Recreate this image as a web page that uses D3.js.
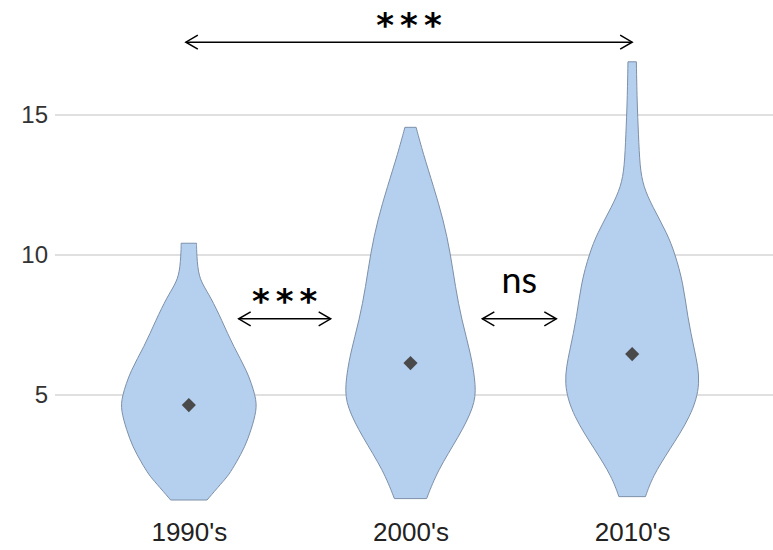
<!DOCTYPE html>
<html>
<head>
<meta charset="utf-8">
<script src="https://cdn.jsdelivr.net/npm/d3@7"></script>
<style>
  body { margin: 0; background: #fff; }
  svg { display: block; }
</style>
</head>
<body>
<div id="chart"></div>
<script>
// data
const decades = ["1990's", "2000's", "2010's"];
const means = [4.64, 6.14, 6.46];
const yTicks = [5, 10, 15];

// violin outlines: value along y, relative density (half width)
const values90 = [1.25, 1.86, 2.14, 2.6, 3.14, 3.75, 4.46, 4.93, 5.89, 6.71, 7.68, 8.5, 8.93, 9.36, 10.18, 10.42];
const density90 = [0.26, 0.47, 0.57, 0.68, 0.8, 0.89, 0.97, 0.96, 0.83, 0.64, 0.47, 0.31, 0.2, 0.13, 0.11, 0.11];
const values00 = [1.3, 2.32, 3.51, 4.58, 5.3, 6.5, 7.68, 8.87, 10.07, 11.25, 12.44, 13.63, 14.56];
const density00 = [0.23, 0.39, 0.69, 0.91, 0.94, 0.86, 0.73, 0.64, 0.57, 0.47, 0.33, 0.18, 0.08];
const values10 = [1.37, 2.08, 3.04, 4.23, 5.42, 6.6, 7.8, 8.99, 10.06, 10.77, 11.73, 12.44, 13.15, 14.3, 15.5, 16.9];
const density10 = [0.19, 0.29, 0.53, 0.84, 0.99, 0.89, 0.79, 0.73, 0.61, 0.5, 0.29, 0.16, 0.11, 0.09, 0.07, 0.06];

// pairwise comparisons
const compFrom = [0, 1, 0];
const compTo = [1, 2, 2];
const compLabels = ["***", "ns", "***"];

const width = 773, height = 550;

const svg = d3.select('#chart').append('svg')
    .attr('width', width)
    .attr('height', height);

const x = d3.scalePoint().domain(decades).range([78, 743]).padding(0.5);
const y = d3.scaleLinear().domain([0, 18]).range([535, 31]);
const w = d3.scaleLinear().domain([0, 1]).range([0, 70]);

// gridlines
svg.append('g').selectAll('line')
    .data(yTicks)
    .join('line')
    .attr('x1', 55).attr('x2', width)
    .attr('y1', d => y(d)).attr('y2', d => y(d))
    .attr('stroke', '#d6d6d6')
    .attr('stroke-width', 1.5);

// y axis labels
const yAxis = d3.axisLeft(y).tickValues(yTicks).tickSize(0).tickPadding(0);
svg.append('g')
    .attr('transform', 'translate(48,0)')
    .call(yAxis)
    .call(g => g.select('.domain').remove())
    .selectAll('text')
    .attr('font-family', 'Liberation Sans, Arial, sans-serif')
    .attr('font-size', 24)
    .attr('fill', '#333');

// x axis labels
const xAxis = d3.axisBottom(x).tickSize(0).tickPadding(0);
svg.append('g')
    .attr('transform', 'translate(0,523)')
    .call(xAxis)
    .call(g => g.select('.domain').remove())
    .selectAll('text')
    .attr('font-family', 'Liberation Sans, Arial, sans-serif')
    .attr('font-size', 26)
    .attr('fill', '#222');

// violins
const violins = [
    { name: decades[0], values: values90, density: density90 },
    { name: decades[1], values: values00, density: density00 },
    { name: decades[2], values: values10, density: density10 }
];

violins.forEach(v => {
    const pts = v.values.map((val, i) => ({ value: val, dens: v.density[i] }));
    const cx = x(v.name);
    const area = d3.area()
        .y(d => y(d.value))
        .x0(d => cx - w(d.dens))
        .x1(d => cx + w(d.dens))
        .curve(d3.curveBasis);
    svg.append('path')
        .datum(pts)
        .attr('d', area)
        .attr('fill', '#b5cfee')
        .attr('stroke', '#7d90a8')
        .attr('stroke-width', 1);
});

// mean markers
svg.append('g').selectAll('path')
    .data(means)
    .join('path')
    .attr('transform', (d, i) => `translate(${x(decades[i])},${y(d)}) rotate(45)`)
    .attr('d', d3.symbol(d3.symbolSquare, 100))
    .attr('fill', '#4a4a4a');

// comparison arrows
function arrow(x1, x2, yy) {
    const g = svg.append('g')
        .attr('stroke', '#000')
        .attr('stroke-width', 1.5)
        .attr('fill', 'none');
    g.append('line').attr('x1', x1).attr('x2', x2).attr('y1', yy).attr('y2', yy);
    g.append('path').attr('d', `M${x1 + 12},${yy - 7}L${x1},${yy}L${x1 + 12},${yy + 7}`);
    g.append('path').attr('d', `M${x2 - 12},${yy - 7}L${x2},${yy}L${x2 - 12},${yy + 7}`);
}

compLabels.forEach((lab, i) => {
    const a = x(decades[compFrom[i]]), b = x(decades[compTo[i]]);
    const wide = compTo[i] - compFrom[i] > 1;
    let x1, x2, yy;
    if (wide) {
        x1 = a - 3; x2 = b; yy = y(17.6);
    } else {
        const mid = (a + b) / 2 + (i === 0 ? -15 : -2);
        const half = i === 0 ? 46 : 37;
        x1 = mid - half; x2 = mid + half; yy = y(7.72);
    }
    arrow(x1, x2, yy);
    const isNs = lab === 'ns';
    svg.append('text')
        .attr('x', (x1 + x2) / 2 + (isNs ? 0 : 3))
        .attr('y', isNs ? yy - 26 : yy - (wide ? 5 : 6))
        .attr('text-anchor', 'middle')
        .attr('font-family', isNs ? 'Lato, Open Sans, sans-serif' : 'DejaVu Sans, sans-serif')
        .attr('font-weight', isNs ? 'normal' : 'bold')
        .attr('font-size', isNs ? 36 : 34)
        .attr('letter-spacing', isNs ? 0 : 6)
        .attr('fill', '#000')
        .text(lab);
});
</script>
</body>
</html>
